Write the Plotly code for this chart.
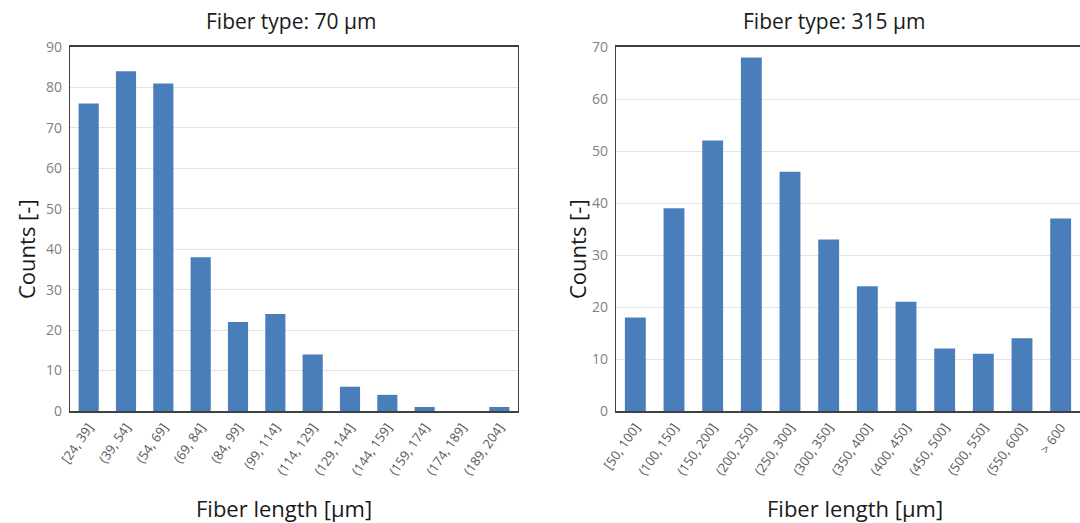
import plotly.graph_objects as go

cats_70 = ["[24, 39]", "(39, 54]", "(54, 69]", "(69, 84]", "(84, 99]", "(99, 114]",
           "(114, 129]", "(129, 144]", "(144, 159]", "(159, 174]", "(174, 189]", "(189, 204]"]
counts_70 = [76, 84, 81, 38, 22, 24, 14, 6, 4, 1, 0, 1]

cats_315 = ["[50, 100]", "(100, 150]", "(150, 200]", "(200, 250]", "(250, 300]", "(300, 350]",
            "(350, 400]", "(400, 450]", "(450, 500]", "(500, 550]", "(550, 600]", "> 600"]
counts_315 = [18, 39, 52, 68, 46, 33, 24, 21, 12, 11, 14, 37]

titles = ["Fiber type: 70 µm", "Fiber type: 315 µm"]
BAR = "#4a7ebb"
FONT = "Open Sans"
W, H = 1080, 523
T, B = 47, 112

fig = go.Figure()
fig.add_trace(go.Bar(x=cats_70, y=counts_70, marker=dict(color=BAR, line=dict(width=0)),
                     xaxis="x", yaxis="y"))
fig.add_trace(go.Bar(x=cats_315, y=counts_315, marker=dict(color=BAR, line=dict(width=0)),
                     xaxis="x2", yaxis="y2"))

d1 = [70 / W, 518 / W]
d2 = [616 / W, 1.0]
common_x = dict(tickangle=-55, tickfont=dict(family=FONT, size=13, color="#595959"),
                showline=True, linecolor="#404040", linewidth=1.6, ticks="", showgrid=False,
                automargin=False, ticklabelstandoff=2)
common_y = dict(tickfont=dict(family=FONT, size=14, color="#7f7f7f"), showline=True,
                linecolor="#404040", linewidth=1.2, gridcolor="#e3e3e3", gridwidth=1,
                ticks="", zeroline=False, automargin=False, ticklabelstandoff=4)

plot_h = H - T - B


def ypix(p):
    return (H - B - p) / plot_h


def ann(text, xpx, ypx, size, angle=0):
    return dict(text=text, x=xpx / W, y=ypix(ypx), xref="paper", yref="paper",
                xanchor="center", yanchor="middle", showarrow=False, textangle=angle,
                font=dict(family=FONT, size=size, color="#1a1a1a"))


fig.update_layout(
    width=W, height=H, margin=dict(l=0, r=0, t=T, b=B, autoexpand=False),
    paper_bgcolor="white", plot_bgcolor="white", showlegend=False, bargap=0.46,
    xaxis=dict(domain=d1, anchor="y", mirror=True, **common_x),
    yaxis=dict(domain=[0, 1], anchor="x", range=[0, 90], dtick=10, mirror=True, **common_y),
    xaxis2=dict(domain=d2, anchor="y2", mirror=True, **common_x),
    yaxis2=dict(domain=[0, 1], anchor="x2", range=[0, 70], dtick=10, **common_y),
    annotations=[
        ann(titles[0], 291, 21, 21),
        ann(titles[1], 834, 21, 21),
        ann("Fiber length [µm]", 284, 508, 22),
        ann("Fiber length [µm]", 855, 508, 22),
        ann("Counts [-]", 26, 249, 22, -90),
        ann("Counts [-]", 577, 249, 22, -90),
    ],
)

fig.write_html("out.html")
